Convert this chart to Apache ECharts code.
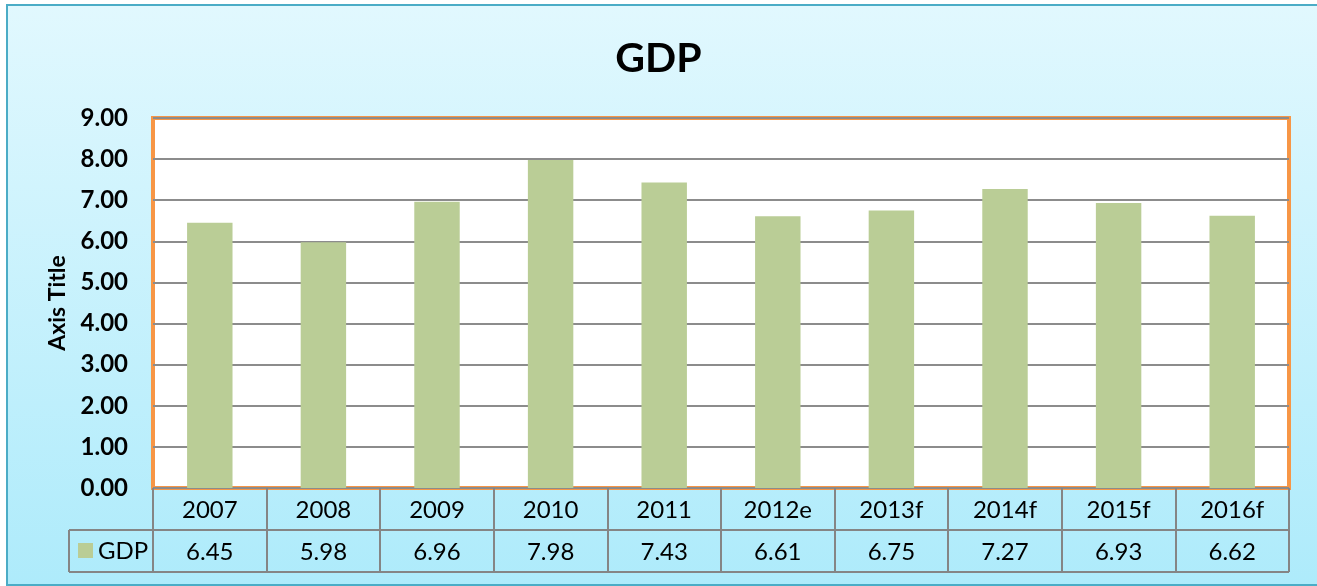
<!DOCTYPE html>
<html>
<head>
<meta charset="utf-8">
<script src="https://cdn.jsdelivr.net/npm/echarts@6/dist/echarts.min.js"></script>
<style>
  html, body { margin: 0; padding: 0; background: #fff; }
  .frame {
    position: absolute;
    left: 6px; top: 4px; width: 1320px; height: 578px;
    border: 2px solid #4bacc6;
    background: linear-gradient(to bottom, #e1f8fe 0%, #aeebfb 100%);
  }
  #chart { position: absolute; left: 0; top: 0; width: 1317px; height: 586px; }
</style>
</head>
<body>
<div class="frame"></div>
<div id="chart"></div>
<script>
// data
const years = ['2007', '2008', '2009', '2010', '2011', '2012e', '2013f', '2014f', '2015f', '2016f'];
const gdp = [6.45, 5.98, 6.96, 7.98, 7.43, 6.61, 6.75, 7.27, 6.93, 6.62];
const yTicks = [0, 1, 2, 3, 4, 5, 6, 7, 8, 9];

const FONT = 'Lato, "Noto Sans", sans-serif';
const gridLeft = 153, gridTop = 118, gridW = 1136, gridH = 370;
const rowH = 42;
const tableLine = '#858585';

const chart = echarts.init(document.getElementById('chart'));

const option = {
  backgroundColor: 'transparent',
  animation: false,
  title: {
    text: 'GDP',
    left: 'center',
    top: 33,
    textStyle: { fontFamily: FONT, fontSize: 41, fontWeight: 'bold', color: '#000' }
  },
  grid: {
    left: gridLeft, top: gridTop, width: gridW, height: gridH,
    show: true,
    backgroundColor: '#fff',
    borderColor: '#f79646',
    borderWidth: 4
  },
  xAxis: [
    {
      type: 'category',
      data: years,
      position: 'bottom',
      axisLine: { show: false },
      axisTick: {
        show: true, length: 84, inside: false,
        lineStyle: { color: tableLine, width: 2 }
      },
      axisLabel: {
        margin: 10, fontFamily: FONT, fontSize: 24, color: '#000'
      }
    },
    {
      type: 'category',
      data: gdp.map(v => v.toFixed(2)),
      position: 'bottom',
      offset: rowH,
      axisLine: { show: false },
      axisTick: { show: false },
      axisLabel: {
        margin: 10, fontFamily: FONT, fontSize: 24, color: '#000'
      }
    }
  ],
  yAxis: {
    type: 'value',
    min: yTicks[0],
    max: yTicks[yTicks.length - 1],
    interval: 1,
    name: 'Axis Title',
    nameLocation: 'middle',
    nameRotate: 90,
    nameGap: 84,
    nameTextStyle: { fontFamily: FONT, fontSize: 23, fontWeight: 'bold', color: '#000' },
    axisLine: { show: false },
    axisTick: { show: false },
    axisLabel: {
      margin: 25,
      fontFamily: FONT, fontSize: 24, fontWeight: 'bold', color: '#000',
      formatter: v => v.toFixed(2)
    },
    splitLine: { lineStyle: { color: '#8c8c8c', width: 2 } }
  },
  series: [
    {
      name: 'GDP',
      type: 'bar',
      data: gdp,
      barWidth: '40%',
      itemStyle: { color: '#bacd96' }
    }
  ],
  graphic: [
    // table horizontal lines
    { type: 'line', shape: { x1: gridLeft, y1: gridTop + gridH + rowH, x2: gridLeft + gridW, y2: gridTop + gridH + rowH },
      style: { stroke: tableLine, lineWidth: 2 } },
    { type: 'line', shape: { x1: 69, y1: gridTop + gridH + 2 * rowH, x2: gridLeft + gridW, y2: gridTop + gridH + 2 * rowH },
      style: { stroke: tableLine, lineWidth: 2 } },
    { type: 'line', shape: { x1: 69, y1: gridTop + gridH + rowH, x2: gridLeft, y2: gridTop + gridH + rowH },
      style: { stroke: tableLine, lineWidth: 2 } },
    { type: 'line', shape: { x1: 69, y1: gridTop + gridH + rowH, x2: 69, y2: gridTop + gridH + 2 * rowH },
      style: { stroke: tableLine, lineWidth: 2 } },
    // legend key
    { type: 'rect', shape: { x: 78, y: 543, width: 15, height: 15 }, style: { fill: '#bacd96' } },
    { type: 'text', x: 98, y: 551,
      style: { text: 'GDP', fontFamily: FONT, fontSize: 24, fill: '#000', verticalAlign: 'middle' } }
  ]
};

chart.setOption(option);
</script>
</body>
</html>
